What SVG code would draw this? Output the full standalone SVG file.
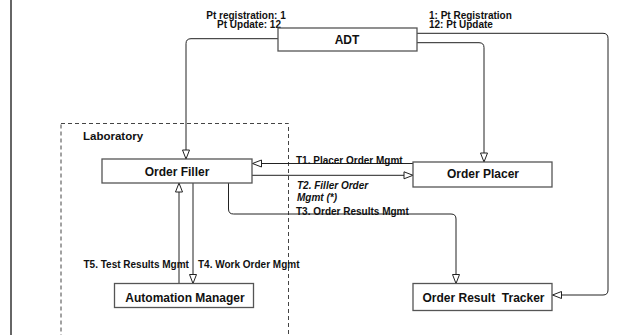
<svg xmlns="http://www.w3.org/2000/svg" width="618" height="335" viewBox="0 0 618 335">
<defs>
<marker id="tri" markerUnits="userSpaceOnUse" markerWidth="11" markerHeight="9" refX="9.5" refY="3.5" orient="auto" overflow="visible">
<path d="M0.5,0 L9.5,3.5 L0.5,7 Z" fill="#fff" stroke="#222" stroke-width="1"/>
</marker>
<style>
.box{fill:#fff;stroke:#555;stroke-width:1.3}
.lbl{font-family:"Liberation Sans",Arial,sans-serif;font-weight:bold;font-size:12px;fill:#111;text-anchor:middle}
.sm{font-family:"Liberation Sans",Arial,sans-serif;font-weight:bold;font-size:10px;fill:#111}
.it{font-style:italic}
.con{fill:none;stroke:#222;stroke-width:1}
</style>
</defs>
<rect width="618" height="335" fill="#fff"/>
<line x1="11" y1="0" x2="11" y2="335" stroke="#333" stroke-width="1.5"/>
<g id="laboratory">
<rect x="61" y="123.5" width="227.5" height="230" fill="none" stroke="#444" stroke-width="1" stroke-dasharray="4,3"/>
<text class="sm" x="83" y="140" style="font-size:11.5px">Laboratory</text>
</g>
<g id="connectors">
<path class="con" d="M278,38.7 H191 Q186,38.7 186,43.7 V159" marker-end="url(#tri)"/>
<path class="con" d="M417,42.7 H479 Q484,42.7 484,47.7 V162" marker-end="url(#tri)"/>
<path class="con" d="M417,33.3 H603 Q608,33.3 608,38.3 V290 Q608,295 603,295 H552.5" marker-end="url(#tri)"/>
<path class="con" d="M413,163.5 H252.5" marker-end="url(#tri)"/>
<path class="con" d="M252,175.3 H413" marker-end="url(#tri)"/>
<path class="con" d="M228.5,183 V209 Q228.5,214 233.5,214 H451 Q456,214 456,219 V283.5" marker-end="url(#tri)"/>
<path class="con" d="M179,283.5 V183" marker-end="url(#tri)"/>
<path class="con" d="M193,183 V283.5" marker-end="url(#tri)"/>
<text class="sm" x="246" y="18.5" text-anchor="middle">Pt registration: 1</text>
<text class="sm" x="249" y="28" text-anchor="middle">Pt Update: 12</text>
<text class="sm" x="429" y="18.5">1: Pt Registration</text>
<text class="sm" x="429" y="28">12: Pt Update</text>
<text class="sm" x="296" y="163.5">T1. Placer Order Mgmt</text>
<text class="sm it" x="297" y="189">T2. Filler Order</text>
<text class="sm it" x="297" y="201">Mgmt (*)</text>
<text class="sm" x="296" y="214.5">T3. Order Results Mgmt</text>
<text class="sm" x="83.5" y="267.5">T5. Test Results Mgmt</text>
<text class="sm" x="198" y="267.5">T4. Work Order Mgmt</text>
</g>
<g id="adt">
<rect class="box" x="278" y="28" width="139" height="23"/>
<text class="lbl" x="347" y="44">ADT</text>
</g>
<g id="order-filler">
<rect class="box" x="102" y="159" width="150" height="24"/>
<text class="lbl" x="177" y="175.5">Order Filler</text>
</g>
<g id="order-placer">
<rect class="box" x="413" y="162" width="139" height="25"/>
<text class="lbl" x="483" y="178">Order Placer</text>
</g>
<g id="order-result-tracker">
<rect class="box" x="413" y="283.5" width="139" height="27"/>
<text class="lbl" x="483.5" y="302" xml:space="preserve">Order Result  Tracker</text>
</g>
<g id="automation-manager">
<rect class="box" x="114.5" y="283.5" width="139" height="24"/>
<text class="lbl" x="185" y="302">Automation Manager</text>
</g>
</svg>
